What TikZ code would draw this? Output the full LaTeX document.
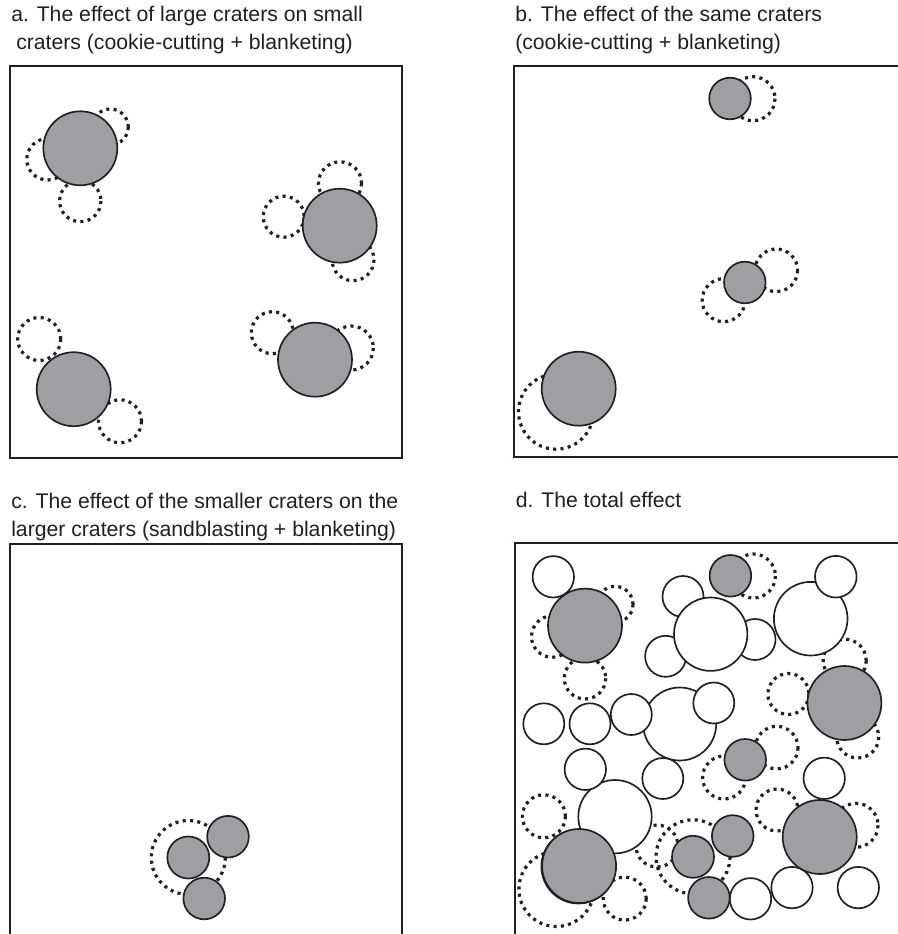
\documentclass[tikz,border=0pt]{standalone}
\usepackage{fontspec}
\setmainfont{Liberation Sans}
\definecolor{ink}{HTML}{231F20}
\definecolor{crater}{HTML}{9D9FA2}
\tikzset{
  dotc/.style={draw=ink, line width=2.4pt, dash pattern=on 2.3pt off 3.2pt},
  grayc/.style={draw=ink, fill=crater, line width=1.25pt},
  whitec/.style={draw=ink, fill=white, line width=1.25pt},
  panelbox/.style={draw=ink, line width=1.4pt},
  lbl/.style={anchor=base west, inner sep=0pt, text=ink, font=\fontsize{15.9}{19}\selectfont},
}
% panel a contents (page coordinates of panel a)
\newcommand\DotsA{%
  \path[dotc] (110.3,127) circle[radius=18];
  \path[dotc] (47.5,159.3) circle[radius=20.7];
  \path[dotc] (80.3,201) circle[radius=20.7];
  \path[dotc] (340,183.3) circle[radius=21.5];
  \path[dotc] (283.7,216.7) circle[radius=20.5];
  \path[dotc] (353,259.7) circle[radius=21];
  \path[dotc] (39.2,339) circle[radius=21.5];
  \path[dotc] (120,421.3) circle[radius=21.5];
  \path[dotc] (272.3,332.7) circle[radius=21];
  \path[dotc] (351.3,348) circle[radius=22];
}
\newcommand\GrayA{%
  \path[grayc] (80.3,148.3) circle[radius=37];
  \path[grayc] (339.7,225.7) circle[radius=37];
  \path[grayc] (73.7,389.2) circle[radius=37];
  \path[grayc] (315,359.7) circle[radius=37];
}
% panel b contents
\newcommand\DotsB{%
  \path[dotc] (753,98.7) circle[radius=22];
  \path[dotc] (776.3,270.3) circle[radius=21.3];
  \path[dotc] (723.7,300.2) circle[radius=21.5];
  \path[dotc] (556,411.7) circle[radius=37.5];
}
\newcommand\GrayB{%
  \path[grayc] (730,98.5) circle[radius=20.8];
  \path[grayc] (744.8,282.5) circle[radius=20.8];
  \path[grayc] (578.7,388.7) circle[radius=37];
}
% panel c contents
\newcommand\DotsC{%
  \path[dotc] (188.3,857.5) circle[radius=37];
}
\newcommand\GrayC{%
  \path[grayc] (228,836.7) circle[radius=20.8];
  \path[grayc] (188.3,857.5) circle[radius=21];
  \path[grayc] (204.2,898.5) circle[radius=20.8];
}
\begin{document}
\begin{tikzpicture}[x=0.75pt,y=-0.75pt]
\useasboundingbox (0,0) rectangle (898,934);
\clip (0,0) rectangle (898,934);
\fill[white] (0,0) rectangle (898,934);

% labels
\node[lbl] (ta1) at (11,21.7) {a. The effect of large craters on small};
\node[lbl] (ta2) at (16,50) {craters (cookie-cutting + blanketing)};
\node[lbl] (tb1) at (515,21.7) {b. The effect of the same craters};
\node[lbl] (tb2) at (515,50) {(cookie-cutting + blanketing)};
\node[lbl] (tc1) at (11,508.3) {c. The effect of the smaller craters on the};
\node[lbl] (tc2) at (11,536.3) {larger craters (sandblasting + blanketing)};
\node[lbl] (td1) at (515.5,507.8) {d. The total effect};

% panel frames
\path[panelbox] (10,66) rectangle (402.3,458);
\path[panelbox] (514.3,65.7) rectangle (912,457.3);
\path[panelbox] (10,544) rectangle (402.3,945);
\path[panelbox] (514.7,543.3) rectangle (912,945);

% panels a, b, c
\DotsA \GrayA
\DotsB \GrayB
\DotsC \GrayC

% panel d: dotted layer
\begin{scope}[shift={(504.7,477.3)}]\DotsA\end{scope}
\begin{scope}[shift={(0.4,477.3)}]\DotsB\end{scope}
\begin{scope}[shift={(504.7,-0.7)}]\DotsC\end{scope}
\path[dotc] (657,846) circle[radius=21];

% panel d: fresh (white) craters, lower layer
\path[whitec] (683,596.5) circle[radius=20.5];
\path[whitec] (665.6,656.3) circle[radius=20.5];
\path[whitec] (755,639.5) circle[radius=20.5];
\path[whitec] (810.7,618.7) circle[radius=36.8];
\path[whitec] (679.7,724) circle[radius=36.5];
\path[whitec] (615,816.7) circle[radius=36.7];
% upper layer
\path[whitec] (710.7,634.2) circle[radius=36.7];
\path[whitec] (835.8,576.7) circle[radius=20.8];
\path[whitec] (631.3,714.5) circle[radius=20.5];
\path[whitec] (713.8,703) circle[radius=20.5];
\path[whitec] (585.3,769.3) circle[radius=20.7];
\path[whitec] (662.8,778.5) circle[radius=20.5];
\path[whitec] (553.3,576.8) circle[radius=20.7];
\path[whitec] (543.8,723.8) circle[radius=20.5];
\path[whitec] (590,723.8) circle[radius=20.5];
\path[whitec] (824.2,778.3) circle[radius=20.7];
\path[whitec] (750.5,898.8) circle[radius=20.7];
\path[whitec] (792,887.6) circle[radius=20.7];
\path[whitec] (858.3,887.6) circle[radius=20.7];

% panel d: grey craters
\begin{scope}[shift={(504.7,477.3)}]\GrayA\end{scope}
\begin{scope}[shift={(0.4,477.3)}]\GrayB\end{scope}
\begin{scope}[shift={(504.7,-0.7)}]\GrayC\end{scope}
\end{tikzpicture}
\end{document}
